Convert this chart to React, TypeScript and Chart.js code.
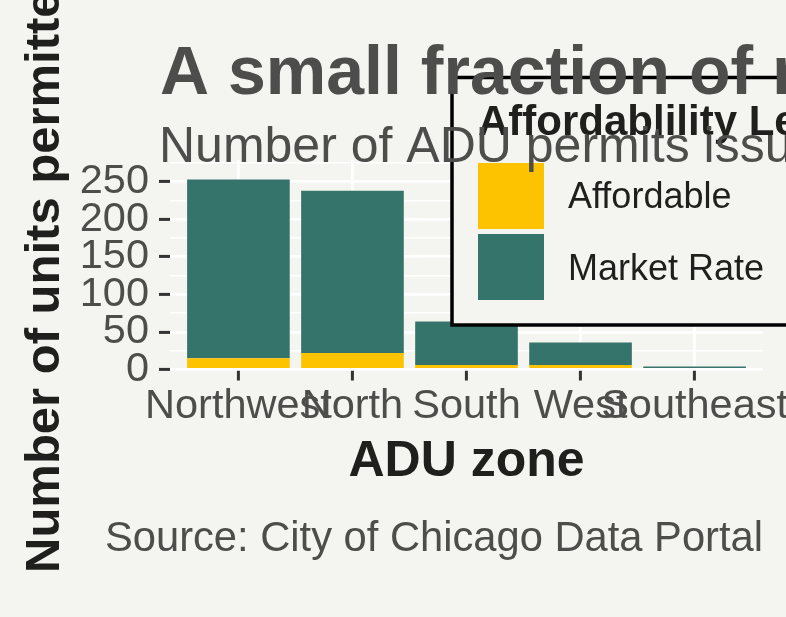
import React, { useEffect, useRef } from "react";
import { Chart, registerables } from "chart.js";

Chart.register(...registerables);

// ---- data ----
const zones = ["Northwest", "North", "South", "West", "Southeast"];
const affordable = [15, 22, 6, 6, 0];
const marketRate = [238, 216, 58, 30, 4];
const yMajorTicks = [0, 50, 100, 150, 200, 250];
const yMinorTicks = [25, 75, 125, 175, 225, 275];
const seriesNames = ["Affordable", "Market Rate"];
const seriesColors = ["#FDC300", "#35746A"];

const titleText = "A small fraction of new ADUs are affordable";
const subtitleText = "Number of ADU permits issued by zone";
const captionText = "Source: City of Chicago Data Portal";
const xTitleText = "ADU zone";
const yTitleText = "Number of units permitted";
const legendTitleText = "Affordablility Level";

// ---- style ----
const FAMILY = "'Liberation Sans', Arial, Helvetica, sans-serif";
const BG = "#f4f4f0";
const GRAY = "#4d4d4b";
const DARK = "#1f1f1d";
const W = 786;
const H = 617;

const decorPlugin = {
  id: "decor",
  afterDraw(chart: any) {
    const ctx: CanvasRenderingContext2D = chart.ctx;
    const ca = chart.chartArea;
    ctx.save();
    ctx.textBaseline = "alphabetic";

    // x axis title
    ctx.fillStyle = DARK;
    ctx.font = `bold 50px ${FAMILY}`;
    ctx.textAlign = "center";
    ctx.fillText(xTitleText, (ca.left + ca.right) / 2, 476);

    // y axis title
    ctx.save();
    ctx.translate(59, 573);
    ctx.rotate(-Math.PI / 2);
    ctx.textAlign = "left";
    ctx.font = `bold 49px ${FAMILY}`;
    ctx.fillText(yTitleText, 0, 0);
    ctx.restore();

    // caption
    ctx.fillStyle = GRAY;
    ctx.font = `41.7px ${FAMILY}`;
    ctx.textAlign = "right";
    ctx.fillText(captionText, 763, 551);

    // legend box
    ctx.fillStyle = BG;
    ctx.fillRect(452, 77.5, 400, 247.5);
    ctx.strokeStyle = "#000";
    ctx.lineWidth = 3.5;
    ctx.strokeRect(452, 77.5, 400, 247.5);

    ctx.textAlign = "left";
    ctx.fillStyle = DARK;
    ctx.font = `bold 42px ${FAMILY}`;
    ctx.fillText(legendTitleText, 478, 135);

    const keyTops = [163, 234];
    const labelBase = [208, 280];
    ctx.font = `36px ${FAMILY}`;
    seriesNames.forEach((name, i) => {
      ctx.fillStyle = seriesColors[i];
      ctx.fillRect(478, keyTops[i], 66, 66);
      ctx.fillStyle = DARK;
      ctx.fillText(name, 568, labelBase[i]);
    });

    // title + subtitle (drawn over legend)
    ctx.fillStyle = GRAY;
    ctx.font = `bold 68px ${FAMILY}`;
    ctx.fillText(titleText, 160, 94);
    ctx.font = `50px ${FAMILY}`;
    ctx.fillText(subtitleText, 159, 162);

    ctx.restore();
  },
};

export default function App() {
  const ref = useRef<HTMLCanvasElement>(null);

  useEffect(() => {
    const canvas = ref.current;
    if (!canvas) return;
    const allYTicks = [...yMajorTicks, ...yMinorTicks].sort((a, b) => a - b);
    const isMajor = (v: number) => yMajorTicks.includes(v);

    const chart = new Chart(canvas, {
      type: "bar",
      data: {
        datasets: seriesNames.map((name, s) => ({
          label: name,
          data: (s === 0 ? affordable : marketRate).map((v, i) => ({ x: i, y: v })),
          backgroundColor: seriesColors[s],
          borderWidth: 0,
          categoryPercentage: 0.9,
          barPercentage: 1,
        })),
      },
      options: {
        animation: false,
        responsive: false,
        maintainAspectRatio: false,
        layout: { padding: { left: 0, top: 160, right: 23, bottom: 0 } },
        plugins: {
          legend: { display: false },
          title: { display: false },
          tooltip: { enabled: false },
        },
        scales: {
          x: {
            type: "linear",
            stacked: true,
            offset: false,
            min: -0.6,
            max: 4.6,
            afterBuildTicks: (s: any) => {
              s.ticks = zones.map((_, i) => ({ value: i }));
            },
            afterFit: (s: any) => {
              s.height = H - 369.5;
              s.paddingLeft = 0;
              s.paddingRight = 0;
            },
            ticks: {
              callback: (v: any) => zones[v] ?? "",
              autoSkip: false,
              maxRotation: 0,
              minRotation: 0,
              padding: 1,
              color: GRAY,
              font: { family: FAMILY, size: 41.5 },
            },
            grid: {
              offset: false,
              color: "#ffffff",
              lineWidth: 2.8,
              tickLength: 11,
              tickColor: "#333333",
              tickWidth: 3,
            },
            border: { display: false },
          },
          y: {
            stacked: true,
            min: 0,
            max: 279,
            afterBuildTicks: (s: any) => {
              s.ticks = allYTicks.map((v) => ({ value: v }));
            },
            afterFit: (s: any) => {
              s.width = 170;
              s.paddingTop = 0;
              s.paddingBottom = 0;
            },
            ticks: {
              callback: (v: any) => (isMajor(v) ? String(v) : ""),
              autoSkip: false,
              padding: 10,
              color: GRAY,
              font: { family: FAMILY, size: 41.5 },
            },
            grid: {
              color: "#ffffff",
              lineWidth: (c: any) => (isMajor(c.tick?.value) ? 2.8 : 1.4),
              tickLength: 11,
              tickColor: (c: any) => (isMajor(c.tick?.value) ? "#333333" : "rgba(0,0,0,0)"),
              tickWidth: 3,
            },
            border: { display: false },
          },
        },
      } as any,
      plugins: [decorPlugin],
    });
    return () => chart.destroy();
  }, []);

  return (
    <div
      style={{
        position: "fixed",
        left: 0,
        top: 0,
        width: W,
        height: H,
        background: BG,
        overflow: "hidden",
      }}
    >
      <canvas ref={ref} width={W} height={H} style={{ display: "block", width: W, height: H }} />
    </div>
  );
}
